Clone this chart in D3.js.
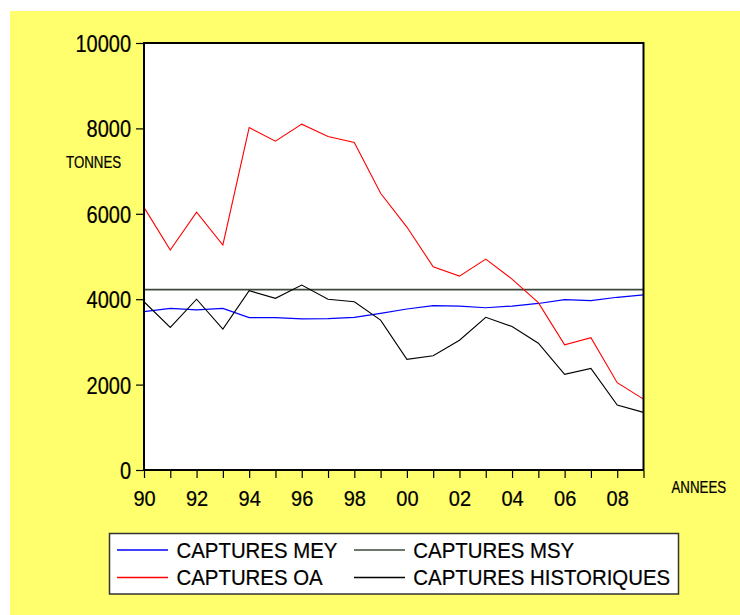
<!DOCTYPE html>
<html>
<head>
<meta charset="utf-8">
<script src="https://cdn.jsdelivr.net/npm/d3@7"></script>
<style>
  html, body { margin: 0; padding: 0; background: #ffffff; }
  svg { display: block; }
  text { font-family: "Liberation Sans", Arial, sans-serif; fill: #000; stroke: #000; stroke-width: 0.2px; }
</style>
</head>
<body>
<svg id="chart" width="740" height="615"></svg>
<script>
const years = [1990,1991,1992,1993,1994,1995,1996,1997,1998,1999,2000,2001,2002,2003,2004,2005,2006,2007,2008,2009];
const capturesMEY = [3710,3785,3750,3785,3570,3570,3540,3545,3575,3670,3770,3850,3840,3800,3840,3900,3990,3965,4045,4100];
const capturesMSY = [4225,4225,4225,4225,4225,4225,4225,4225,4225,4225,4225,4225,4225,4225,4225,4225,4225,4225,4225,4225];
const capturesOA = [6150,5150,6040,5270,8020,7700,8100,7810,7670,6480,5690,4760,4540,4940,4470,3920,2930,3100,2045,1660];
const capturesHist = [3940,3340,4000,3300,4200,4020,4330,4000,3940,3510,2590,2675,3040,3575,3360,2970,2240,2380,1520,1350];
const yTicks = [0,2000,4000,6000,8000,10000];
const xTickLabels = ["90","92","94","96","98","00","02","04","06","08"];
const seriesNames = ["CAPTURES MEY","CAPTURES MSY","CAPTURES OA","CAPTURES HISTORIQUES"];
const seriesColors = ["#0000ff","#3c4a3c","#ff0000","#000000"];

const svg = d3.select("#chart");
// yellow background
svg.append("rect").attr("x",10).attr("y",11).attr("width",730).attr("height",604).attr("fill","#ffff6e");

const L = 144, R = 643.5, T = 43, B = 470;
const x = d3.scaleLinear().domain([1990,2009]).range([L,R]);
const y = d3.scaleLinear().domain([0,10000]).range([B,T]);

svg.append("rect").attr("x",L).attr("y",T).attr("width",R-L).attr("height",B-T).attr("fill","#ffffff");

// lines
const line = d3.line().x((d,i)=>x(years[i])).y(d=>y(d));
const drawSeries = [
  {v: capturesMSY, c: seriesColors[1], w: 1.6},
  {v: capturesMEY, c: seriesColors[0], w: 1.2},
  {v: capturesOA, c: seriesColors[2], w: 1.1},
  {v: capturesHist, c: seriesColors[3], w: 1.1}
];
drawSeries.forEach(s => {
  svg.append("path").datum(s.v).attr("d", line).attr("fill","none")
    .attr("stroke", s.c).attr("stroke-width", s.w).attr("stroke-linejoin","miter");
});

// frame
svg.append("rect").attr("x",L).attr("y",T).attr("width",R-L).attr("height",B-T)
  .attr("fill","none").attr("stroke","#000").attr("stroke-width",2);

// y axis
const yAxis = d3.axisLeft(y).tickValues(yTicks).tickFormat(d3.format("d")).tickSize(7).tickPadding(5);
const gy = svg.append("g").attr("transform",`translate(${L-1},0)`).call(yAxis);
gy.select(".domain").remove();
gy.selectAll(".tick line").attr("stroke","#000").attr("stroke-width",1.2);
gy.selectAll(".tick text").attr("font-size","20px").attr("font-family","Liberation Sans, Arial, sans-serif")
  .attr("fill","#000").attr("transform","scale(1,1.17)").attr("dy","0.36em");

// x axis
const xAxis = d3.axisBottom(x).tickValues(years).tickSize(7).tickPadding(10)
  .tickFormat((d,i) => i % 2 === 0 ? xTickLabels[i/2] : "");
const gx = svg.append("g").attr("transform",`translate(0,${B+1})`).call(xAxis);
gx.select(".domain").remove();
gx.selectAll(".tick line").attr("stroke","#000").attr("stroke-width",1.2);
gx.selectAll(".tick text").attr("font-size","20px").attr("font-family","Liberation Sans, Arial, sans-serif")
  .attr("fill","#000").attr("transform","scale(1,1.13)");

// axis titles
svg.append("text").attr("transform","translate(66,167.5) scale(1,1.2)").attr("font-size","13.3px").text("TONNES");
svg.append("text").attr("transform","translate(671.5,492.5) scale(1,1.2)").attr("font-size","13.3px").text("ANNEES");

// legend
svg.append("rect").attr("x",109.5).attr("y",533.5).attr("width",569).attr("height",60.5)
  .attr("fill","#ffffff").attr("stroke","#333").attr("stroke-width",1.5);
const legPos = [
  {lx:117, tx:176.5, ly:550, ty:558.3},
  {lx:354, tx:413.3, ly:550, ty:558.3},
  {lx:117, tx:176.5, ly:577.5, ty:585},
  {lx:354, tx:413.3, ly:577.5, ty:585}
];
seriesNames.forEach((n,i) => {
  const p = legPos[i];
  svg.append("line").attr("x1",p.lx).attr("x2",p.lx+51).attr("y1",p.ly).attr("y2",p.ly)
    .attr("stroke",seriesColors[i]).attr("stroke-width",1.4);
  svg.append("text").attr("transform",`translate(${p.tx},${p.ty}) scale(1,1.05)`)
    .attr("font-size","20.4px").text(n);
});
</script>
</body>
</html>
